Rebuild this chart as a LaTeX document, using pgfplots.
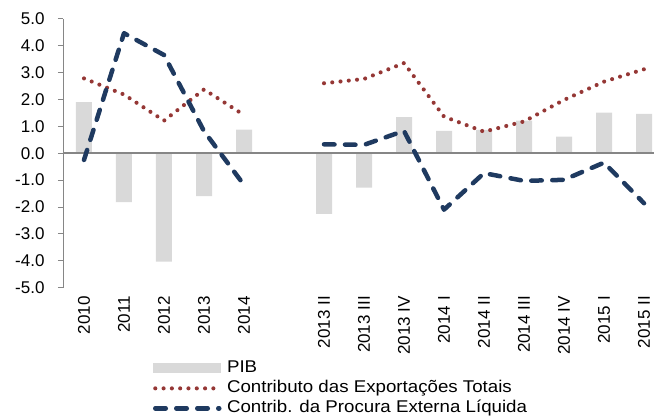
\documentclass[border=0pt]{standalone}
\usepackage{fontspec}
\setmainfont{Liberation Sans}
\newfontfamily\legendfamily[FakeStretch=1.1]{Liberation Sans}
\usepackage{pgfplots}
\pgfplotsset{compat=1.18}

\definecolor{pibgray}{HTML}{D9D9D9}
\definecolor{exportred}{HTML}{953735}
\definecolor{procblue}{HTML}{1F3A60}
\definecolor{axisgray}{HTML}{868686}
\newcommand{\chartfont}{\fontsize{17}{20}\selectfont}

\pgfplotsset{
  barlegend/.style={legend image code/.code={\fill[pibgray] (0pt,-5pt) rectangle (68pt,5pt);}},
  linelegend/.style={legend image code/.code={\draw[##1] (2pt,0pt) -- (66pt,0pt);}},
}

\begin{document}
\begin{tikzpicture}
\begin{axis}[
  scale only axis,
  width=591pt, height=269pt,
  xmin=-0.525, xmax=14.25,
  ymin=-5, ymax=5,
  axis lines*=left,
  x axis line style={draw=none},
  y axis line style={draw=axisgray, line width=0.9pt},
  xtick={0,1,2,3,4,6,7,8,9,10,11,12,13,14},
  xticklabels={2010,2011,2012,2013,2014,2013 II,2013 III,2013 IV,2014 I,2014 II,2014 III,2014 IV,2015 I,2015 II},
  x tick style={draw=none},
  xticklabel style={rotate=90, anchor=east, font=\chartfont},
  ytick={-5,-4,...,5},
  tick align=outside,
  major tick length=5pt,
  y tick style={draw=axisgray, line width=0.9pt},
  yticklabel={\pgfmathprintnumber[fixed,fixed zerofill,precision=1,assume math mode=true]{\tick}},
  yticklabel style={font=\chartfont, xshift=-10pt},
  legend style={at={(0.152,-0.262)}, anchor=north west, draw=none, fill=none,
    font=\legendfamily\chartfont, legend cell align=left, inner sep=0pt, row sep=0pt,
    nodes={inner sep=1.5pt, text height=13pt, text depth=4pt},
    /tikz/every odd column/.append style={column sep=4pt}},
  clip=false,
]
\coordinate (bl) at (rel axis cs:0,0);
\coordinate (tr) at (rel axis cs:1,1);

% PIB
\addplot[ybar, bar width=16pt, fill=pibgray, draw=none, barlegend]
  coordinates {
  (0,1.90) (1,-1.82) (2,-4.03) (3,-1.60) (4,0.88)
  (6,-2.26) (7,-1.28) (8,1.34) (9,0.83) (10,0.87) (11,1.21) (12,0.62) (13,1.51) (14,1.46)
};

% zero line
\addplot[axisgray, line width=1.5pt, forget plot] coordinates {(-0.525,0) (14.25,0)};

% Contributo das Exportacoes Totais
\addplot[exportred, line width=4.1pt, line cap=round, line join=round,
  dash pattern=on 0pt off 8.3pt, linelegend]
  coordinates {(0,2.78) (1,2.18) (2,1.21) (3,2.37) (4,1.42)};
\addplot[exportred, line width=4.1pt, line cap=round, line join=round,
  dash pattern=on 0pt off 8.3pt, forget plot]
  coordinates {(6,2.60) (7,2.76) (8,3.35) (9,1.36) (10,0.80) (11,1.18) (12,1.98) (13,2.66) (14,3.12)};

% Contrib. da Procura Externa Liquida
\addplot[procblue, line width=4.5pt, line cap=round, line join=round,
  dash pattern=on 10.5pt off 10.5pt, linelegend]
  coordinates {(0,-0.25) (1,4.46) (2,3.65) (3,0.82) (4,-1.18)};
\addplot[procblue, line width=4.5pt, line cap=round, line join=round,
  dash pattern=on 10.5pt off 10.5pt, forget plot]
  coordinates {(6,0.33) (7,0.31) (8,0.83) (9,-2.10) (10,-0.74) (11,-1.03) (12,-0.99) (13,-0.35) (14,-1.86)};

\legend{PIB, Contributo das Exportações Totais, Contrib. da Procura Externa Líquida}
\end{axis}
\pgfresetboundingbox
\path[use as bounding box] ([shift={(-63pt,-128.3pt)}]bl) rectangle ([shift={(0pt,18.7pt)}]tr);
\end{tikzpicture}
\end{document}
